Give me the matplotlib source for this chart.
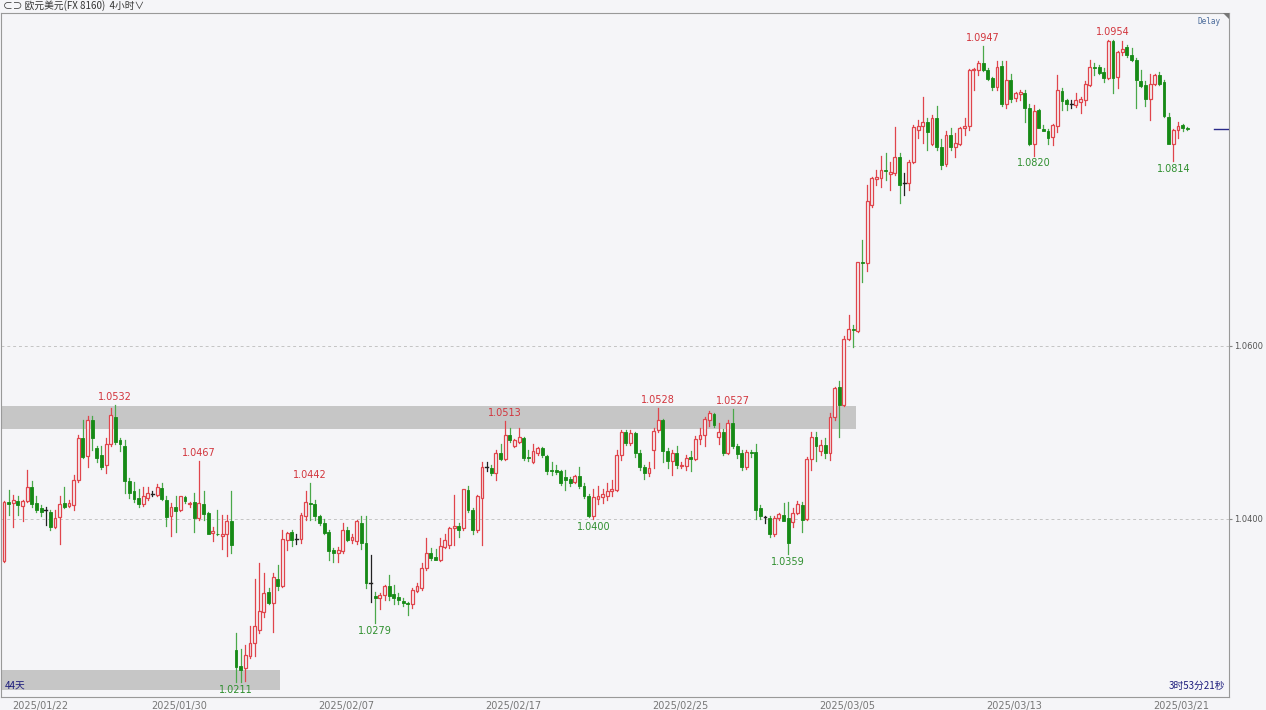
import numpy as np
import matplotlib.pyplot as plt
from matplotlib.patches import Rectangle, Polygon

plt.rcParams['font.family'] = ['Noto Sans CJK SC', 'DejaVu Sans']

# EUR/USD 4h candles (open, high, low, close)
opens = [1.0351, 1.0420, 1.0418, 1.0421, 1.0415, 1.0421, 1.0437, 1.0418, 1.0412, 1.0410,
         1.0408, 1.0391, 1.0402, 1.0418, 1.0415, 1.0416, 1.0445, 1.0493, 1.0473, 1.0514,
         1.0482, 1.0474, 1.0462, 1.0487, 1.0518, 1.0491, 1.0484, 1.0444, 1.0432, 1.0424,
         1.0417, 1.0424, 1.0429, 1.0428, 1.0436, 1.0422, 1.0403, 1.0414, 1.0410, 1.0425,
         1.0417, 1.0419, 1.0401, 1.0417, 1.0407, 1.0384, 1.0383, 1.0380, 1.0382, 1.0398,
         1.0248, 1.0230, 1.0227, 1.0241, 1.0256, 1.0272, 1.0292, 1.0316, 1.0303, 1.0331,
         1.0322, 1.0376, 1.0385, 1.0377, 1.0377, 1.0403, 1.0418, 1.0417, 1.0403, 1.0395,
         1.0385, 1.0364, 1.0360, 1.0363, 1.0387, 1.0376, 1.0374, 1.0395, 1.0372, 1.0326,
         1.0311, 1.0308, 1.0312, 1.0322, 1.0313, 1.0310, 1.0305, 1.0303, 1.0302, 1.0317,
         1.0320, 1.0343, 1.0360, 1.0356, 1.0353, 1.0368, 1.0370, 1.0389, 1.0392, 1.0389,
         1.0433, 1.0410, 1.0387, 1.0424, 1.0460, 1.0459, 1.0453, 1.0476, 1.0469, 1.0497,
         1.0484, 1.0489, 1.0494, 1.0471, 1.0466, 1.0476, 1.0482, 1.0473, 1.0456, 1.0456,
         1.0455, 1.0448, 1.0446, 1.0443, 1.0450, 1.0438, 1.0427, 1.0403, 1.0423, 1.0425,
         1.0427, 1.0432, 1.0433, 1.0474, 1.0501, 1.0488, 1.0499, 1.0476, 1.0460, 1.0453,
         1.0480, 1.0503, 1.0514, 1.0478, 1.0467, 1.0476, 1.0461, 1.0461, 1.0472, 1.0469,
         1.0492, 1.0497, 1.0514, 1.0521, 1.0495, 1.0501, 1.0476, 1.0511, 1.0484, 1.0476,
         1.0460, 1.0477, 1.0477, 1.0412, 1.0402, 1.0401, 1.0383, 1.0401, 1.0405, 1.0401,
         1.0396, 1.0407, 1.0416, 1.0400, 1.0469, 1.0495, 1.0478, 1.0485, 1.0476, 1.0518,
         1.0552, 1.0532, 1.0608, 1.0620, 1.0617, 1.0697, 1.0696, 1.0763, 1.0793, 1.0794,
         1.0803, 1.0799, 1.0800, 1.0819, 1.0788, 1.0788, 1.0813, 1.0850, 1.0854, 1.0859,
         1.0834, 1.0863, 1.0830, 1.0810, 1.0844, 1.0830, 1.0834, 1.0852, 1.0854, 1.0919,
         1.0919, 1.0927, 1.0919, 1.0910, 1.0899, 1.0924, 1.0880, 1.0908, 1.0887, 1.0891,
         1.0893, 1.0875, 1.0834, 1.0873, 1.0851, 1.0849, 1.0842, 1.0854, 1.0895, 1.0884,
         1.0880, 1.0879, 1.0882, 1.0884, 1.0902, 1.0922, 1.0922, 1.0917, 1.0910, 1.0953,
         1.0911, 1.0940, 1.0946, 1.0936, 1.0931, 1.0906, 1.0902, 1.0886, 1.0903, 1.0913,
         1.0905, 1.0865, 1.0834, 1.0850, 1.0855, 1.0852]
highs = [1.0421, 1.0433, 1.0428, 1.0426, 1.0422, 1.0457, 1.0444, 1.0426, 1.0416, 1.0414,
         1.0410, 1.0410, 1.0427, 1.0437, 1.0422, 1.0451, 1.0497, 1.0514, 1.0519, 1.0519,
         1.0484, 1.0484, 1.0493, 1.0528, 1.0532, 1.0493, 1.0491, 1.0447, 1.0443, 1.0434,
         1.0437, 1.0437, 1.0432, 1.0440, 1.0441, 1.0426, 1.0418, 1.0426, 1.0427, 1.0426,
         1.0420, 1.0430, 1.0467, 1.0432, 1.0408, 1.0391, 1.0410, 1.0405, 1.0405, 1.0432,
         1.0268, 1.0250, 1.0254, 1.0276, 1.0331, 1.0349, 1.0337, 1.0320, 1.0337, 1.0347,
         1.0387, 1.0385, 1.0387, 1.0382, 1.0407, 1.0432, 1.0442, 1.0422, 1.0405, 1.0400,
         1.0387, 1.0366, 1.0368, 1.0395, 1.0391, 1.0383, 1.0399, 1.0403, 1.0403, 1.0358,
         1.0316, 1.0314, 1.0324, 1.0335, 1.0324, 1.0314, 1.0308, 1.0304, 1.0320, 1.0326,
         1.0349, 1.0378, 1.0366, 1.0365, 1.0378, 1.0383, 1.0391, 1.0428, 1.0395, 1.0435,
         1.0438, 1.0412, 1.0428, 1.0466, 1.0466, 1.0462, 1.0480, 1.0486, 1.0513, 1.0505,
         1.0492, 1.0505, 1.0495, 1.0480, 1.0487, 1.0483, 1.0483, 1.0474, 1.0466, 1.0462,
         1.0457, 1.0456, 1.0448, 1.0451, 1.0460, 1.0441, 1.0429, 1.0434, 1.0438, 1.0435,
         1.0442, 1.0445, 1.0480, 1.0503, 1.0503, 1.0503, 1.0501, 1.0480, 1.0462, 1.0466,
         1.0505, 1.0528, 1.0515, 1.0482, 1.0480, 1.0484, 1.0466, 1.0474, 1.0478, 1.0496,
         1.0505, 1.0518, 1.0525, 1.0523, 1.0511, 1.0504, 1.0514, 1.0527, 1.0487, 1.0480,
         1.0480, 1.0480, 1.0487, 1.0416, 1.0403, 1.0403, 1.0403, 1.0407, 1.0418, 1.0420,
         1.0412, 1.0421, 1.0420, 1.0472, 1.0501, 1.0500, 1.0491, 1.0494, 1.0522, 1.0553,
         1.0559, 1.0611, 1.0636, 1.0624, 1.0697, 1.0723, 1.0786, 1.0795, 1.0803, 1.0820,
         1.0823, 1.0813, 1.0853, 1.0823, 1.0800, 1.0815, 1.0856, 1.0861, 1.0888, 1.0863,
         1.0867, 1.0877, 1.0839, 1.0848, 1.0852, 1.0846, 1.0853, 1.0863, 1.0920, 1.0921,
         1.0930, 1.0947, 1.0921, 1.0911, 1.0929, 1.0929, 1.0929, 1.0915, 1.0894, 1.0896,
         1.0896, 1.0880, 1.0879, 1.0874, 1.0855, 1.0851, 1.0857, 1.0913, 1.0898, 1.0886,
         1.0884, 1.0892, 1.0888, 1.0906, 1.0931, 1.0927, 1.0925, 1.0921, 1.0954, 1.0954,
         1.0941, 1.0953, 1.0948, 1.0945, 1.0933, 1.0919, 1.0906, 1.0914, 1.0915, 1.0917,
         1.0907, 1.0869, 1.0851, 1.0859, 1.0857, 1.0853]
lows = [1.0350, 1.0405, 1.0391, 1.0405, 1.0397, 1.0420, 1.0414, 1.0408, 1.0403, 1.0393,
        1.0387, 1.0389, 1.0371, 1.0412, 1.0414, 1.0410, 1.0443, 1.0470, 1.0460, 1.0480,
        1.0466, 1.0458, 1.0453, 1.0484, 1.0487, 1.0478, 1.0430, 1.0424, 1.0420, 1.0414,
        1.0415, 1.0422, 1.0426, 1.0426, 1.0422, 1.0392, 1.0380, 1.0385, 1.0409, 1.0418,
        1.0414, 1.0385, 1.0399, 1.0399, 1.0382, 1.0374, 1.0381, 1.0365, 1.0357, 1.0360,
        1.0211, 1.0211, 1.0212, 1.0239, 1.0241, 1.0268, 1.0287, 1.0302, 1.0269, 1.0318,
        1.0321, 1.0364, 1.0369, 1.0371, 1.0372, 1.0399, 1.0399, 1.0399, 1.0393, 1.0383,
        1.0353, 1.0350, 1.0350, 1.0360, 1.0374, 1.0372, 1.0371, 1.0365, 1.0320, 1.0304,
        1.0279, 1.0296, 1.0306, 1.0306, 1.0302, 1.0302, 1.0299, 1.0289, 1.0297, 1.0316,
        1.0318, 1.0341, 1.0353, 1.0352, 1.0351, 1.0366, 1.0366, 1.0370, 1.0379, 1.0387,
        1.0408, 1.0383, 1.0385, 1.0370, 1.0455, 1.0451, 1.0445, 1.0468, 1.0468, 1.0489,
        1.0483, 1.0488, 1.0468, 1.0467, 1.0465, 1.0474, 1.0472, 1.0452, 1.0451, 1.0452,
        1.0439, 1.0433, 1.0438, 1.0442, 1.0436, 1.0424, 1.0402, 1.0400, 1.0417, 1.0418,
        1.0422, 1.0426, 1.0432, 1.0468, 1.0485, 1.0485, 1.0472, 1.0457, 1.0446, 1.0450,
        1.0459, 1.0501, 1.0466, 1.0459, 1.0451, 1.0459, 1.0459, 1.0457, 1.0455, 1.0468,
        1.0486, 1.0484, 1.0507, 1.0506, 1.0486, 1.0474, 1.0475, 1.0482, 1.0470, 1.0457,
        1.0458, 1.0472, 1.0400, 1.0400, 1.0395, 1.0379, 1.0380, 1.0399, 1.0397, 1.0359,
        1.0391, 1.0406, 1.0385, 1.0399, 1.0457, 1.0467, 1.0474, 1.0470, 1.0468, 1.0514,
        1.0495, 1.0530, 1.0607, 1.0599, 1.0616, 1.0674, 1.0687, 1.0761, 1.0786, 1.0784,
        1.0792, 1.0780, 1.0798, 1.0765, 1.0775, 1.0780, 1.0811, 1.0840, 1.0835, 1.0827,
        1.0832, 1.0827, 1.0805, 1.0808, 1.0827, 1.0818, 1.0832, 1.0844, 1.0850, 1.0896,
        1.0913, 1.0918, 1.0907, 1.0896, 1.0896, 1.0877, 1.0875, 1.0882, 1.0883, 1.0884,
        1.0859, 1.0832, 1.0820, 1.0852, 1.0848, 1.0834, 1.0832, 1.0847, 1.0873, 1.0873,
        1.0875, 1.0876, 1.0869, 1.0879, 1.0901, 1.0913, 1.0914, 1.0905, 1.0909, 1.0892,
        1.0898, 1.0937, 1.0934, 1.0929, 1.0875, 1.0900, 1.0877, 1.0861, 1.0902, 1.0902,
        1.0865, 1.0833, 1.0814, 1.0840, 1.0849, 1.0850]
closes = [1.0420, 1.0417, 1.0422, 1.0416, 1.0421, 1.0437, 1.0417, 1.0410, 1.0408, 1.0410,
          1.0391, 1.0401, 1.0417, 1.0414, 1.0418, 1.0445, 1.0493, 1.0472, 1.0514, 1.0493,
          1.0470, 1.0460, 1.0487, 1.0520, 1.0489, 1.0487, 1.0444, 1.0430, 1.0423, 1.0417,
          1.0426, 1.0430, 1.0429, 1.0437, 1.0423, 1.0402, 1.0414, 1.0409, 1.0426, 1.0421,
          1.0418, 1.0401, 1.0418, 1.0406, 1.0383, 1.0386, 1.0382, 1.0383, 1.0397, 1.0370,
          1.0229, 1.0225, 1.0243, 1.0256, 1.0276, 1.0293, 1.0314, 1.0303, 1.0333, 1.0322,
          1.0377, 1.0384, 1.0376, 1.0377, 1.0405, 1.0419, 1.0417, 1.0403, 1.0395, 1.0384,
          1.0363, 1.0360, 1.0364, 1.0387, 1.0376, 1.0379, 1.0397, 1.0372, 1.0326, 1.0326,
          1.0309, 1.0312, 1.0322, 1.0311, 1.0309, 1.0306, 1.0303, 1.0302, 1.0318, 1.0322,
          1.0343, 1.0361, 1.0355, 1.0353, 1.0369, 1.0376, 1.0389, 1.0392, 1.0387, 1.0434,
          1.0410, 1.0387, 1.0426, 1.0460, 1.0460, 1.0453, 1.0476, 1.0469, 1.0497, 1.0491,
          1.0491, 1.0495, 1.0470, 1.0470, 1.0478, 1.0482, 1.0474, 1.0455, 1.0455, 1.0454,
          1.0441, 1.0445, 1.0441, 1.0450, 1.0438, 1.0426, 1.0403, 1.0425, 1.0427, 1.0429,
          1.0432, 1.0434, 1.0474, 1.0501, 1.0488, 1.0499, 1.0476, 1.0460, 1.0453, 1.0459,
          1.0502, 1.0514, 1.0478, 1.0467, 1.0476, 1.0462, 1.0462, 1.0470, 1.0469, 1.0492,
          1.0497, 1.0516, 1.0522, 1.0508, 1.0501, 1.0476, 1.0511, 1.0484, 1.0475, 1.0460,
          1.0477, 1.0476, 1.0410, 1.0403, 1.0402, 1.0383, 1.0401, 1.0406, 1.0398, 1.0372,
          1.0407, 1.0417, 1.0399, 1.0469, 1.0495, 1.0484, 1.0485, 1.0476, 1.0518, 1.0551,
          1.0532, 1.0608, 1.0620, 1.0618, 1.0697, 1.0696, 1.0768, 1.0794, 1.0795, 1.0803,
          1.0802, 1.0801, 1.0818, 1.0786, 1.0788, 1.0813, 1.0853, 1.0854, 1.0859, 1.0847,
          1.0863, 1.0830, 1.0809, 1.0844, 1.0830, 1.0835, 1.0852, 1.0854, 1.0919, 1.0920,
          1.0927, 1.0919, 1.0909, 1.0900, 1.0922, 1.0880, 1.0907, 1.0886, 1.0892, 1.0894,
          1.0875, 1.0834, 1.0872, 1.0852, 1.0849, 1.0841, 1.0855, 1.0896, 1.0883, 1.0880,
          1.0880, 1.0884, 1.0886, 1.0903, 1.0922, 1.0921, 1.0916, 1.0910, 1.0953, 1.0910,
          1.0940, 1.0943, 1.0936, 1.0931, 1.0908, 1.0901, 1.0886, 1.0903, 1.0913, 1.0903,
          1.0866, 1.0834, 1.0850, 1.0854, 1.0852, 1.0851]

tick_dates = ['2025/01/22', '2025/01/30', '2025/02/07', '2025/02/17',
              '2025/02/25', '2025/03/05', '2025/03/13', '2025/03/21']
tick_bars = [1.7, 37.7, 73.7, 109.7, 145.7, 181.7, 217.7, 253.7]

# swing highs / lows that carry a price label (bar index)
peak_bars = [24, 42, 66, 108, 141, 157, 211, 239]
trough_bars = [50, 80, 127, 169, 222, 252]

# shaded zones: (first bar, last bar, low price, high price)
zones = [(-0.7, 183.6, 1.0504, 1.0531), (-0.7, 59.5, 1.0202, 1.0225)]

bg = '#f5f5f8'
up_col = '#e0454c'
dn_col = '#168a16'
dn_wick = '#4aa84a'

fig = plt.figure(figsize=(12.66, 7.10), dpi=100, facecolor=bg)
ax = fig.add_axes([1 / 1266, 13 / 710, 1228 / 1266, 684 / 710])
ax.set_facecolor(bg)

for x0, x1, lo, hi in zones:
    ax.add_patch(Rectangle((x0, lo), x1 - x0, hi - lo, facecolor='#c6c6c6',
                           edgecolor='none', zorder=1))

for y in [1.04, 1.06]:
    ax.axhline(y, color='#c4c4c4', lw=0.7, ls=(0, (3, 3)), zorder=0)

w = 0.62
for i, (o, h, l, c) in enumerate(zip(opens, highs, lows, closes)):
    top, bot = max(o, c), min(o, c)
    if c > o:
        col, wc = up_col, up_col
        ax.add_patch(Rectangle((i - w / 2, bot), w, top - bot, facecolor=bg,
                               edgecolor=col, lw=0.9, zorder=3))
    elif c < o:
        col, wc = dn_col, dn_wick
        ax.add_patch(Rectangle((i - w / 2, bot), w, top - bot, facecolor=col,
                               edgecolor=col, lw=0.6, zorder=3))
    else:
        col, wc = '#222222', '#222222'
        ax.plot([i - w / 2, i + w / 2], [o, o], color=col, lw=1, zorder=3)
    ax.plot([i, i], [top, h], color=wc, lw=0.9, zorder=2)
    ax.plot([i, i], [l, bot], color=wc, lw=0.9, zorder=2)

for i in peak_bars:
    ax.annotate(f'{highs[i]:.4f}', (i, highs[i]), xytext=(0, 2), textcoords='offset points',
                ha='center', va='bottom', fontsize=7, color='#d2343c', family='DejaVu Sans')
for i in trough_bars:
    ax.annotate(f'{lows[i]:.4f}', (i, lows[i]), xytext=(0, -2), textcoords='offset points',
                ha='center', va='top', fontsize=7, color='#2f8f2f', family='DejaVu Sans')

# last price marker
ax.axhline(closes[-1], xmin=0.988, xmax=1.0, color='#2a2a8a', lw=1, zorder=4)

ax.set_xlim(-0.65, 264)
ax.set_ylim(1.0194, 1.0985)
ax.yaxis.tick_right()
ax.set_yticks([1.04, 1.06])
ax.set_yticklabels(['1.0400', '1.0600'], fontsize=6, color='#555555', family='DejaVu Sans')
ax.tick_params(axis='y', length=2, pad=1.5, color='#888888')
ax.set_xticks(tick_bars)
ax.set_xticklabels(tick_dates, fontsize=7, color='#777777', family='DejaVu Sans')
ax.tick_params(axis='x', length=0, pad=3)
ax.get_xticklabels()[0].set_ha('left')
for s in ax.spines.values():
    s.set_color('#999999')
    s.set_linewidth(0.8)

ax.text(0.003, 0.012, '44天', transform=ax.transAxes, fontsize=7, color='#1c1c7c')
ax.text(0.997, 0.012, '3时53分21秒', transform=ax.transAxes, fontsize=7,
        color='#1c1c7c', ha='right')
ax.text(0.993, 1 - 4 / 684, 'Delay', transform=ax.transAxes, fontsize=5.5, color='#4a6a9a',
        ha='right', va='top', family='DejaVu Sans Mono')
ax.add_patch(Polygon([[1 - 6 / 1228, 1], [1, 1], [1, 1 - 6 / 684]], closed=True,
                     transform=ax.transAxes, facecolor='#777777', edgecolor='none',
                     clip_on=False, zorder=5))

fig.text(3 / 1266, 1 - 6 / 710, '⊂⊃ 欧元美元(FX 8160)  4小时∨', fontsize=7,
         color='#333333', va='center', ha='left')

fig.savefig('out.png', dpi=100, facecolor=bg)
